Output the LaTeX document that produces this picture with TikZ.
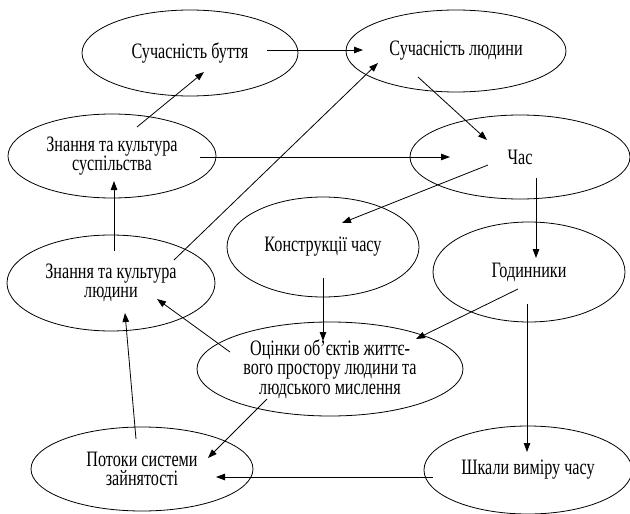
\documentclass[tikz,border=0pt]{standalone}
\usepackage{fontspec}
\setmainfont{Liberation Serif}[FakeStretch=0.735]
\usetikzlibrary{shapes.geometric,arrows.meta,calc}

\begin{document}
\begin{tikzpicture}[
        x=1pt, y=-1pt,
        font=\fontsize{22}{19.5}\selectfont,
        bubble/.style={ellipse, draw, line width=0.8pt, inner sep=0pt, align=center},
        arr/.style={line width=0.8pt, -{Triangle[length=9pt,width=6.5pt]}}
    ]
    \useasboundingbox (0,0) rectangle (630,514);

    % ten ellipses
    \node[bubble, minimum width=216, minimum height=86] (sb) at (190,53) {Сучасність буття};
    \node[bubble, minimum width=220, minimum height=82] (sl) at (456,51) {Сучасність людини};
    \node[bubble, minimum width=208, minimum height=84] (ks) at (112,156) {Знання та культура\\суспільства};
    \node[bubble, minimum width=220, minimum height=84] (chas) at (520,157) {Час};
    \node[bubble, minimum width=192, minimum height=100] (kch) at (323,247) {Конструкції часу};
    \node[bubble, minimum width=208, minimum height=96] (kl) at (111,283) {Знання та культура\\людини};
    \node[bubble, minimum width=192, minimum height=100] (god) at (529,272) {Годинники};
    \node[bubble, minimum width=266, minimum height=94] (oc) at (330,369) {Оцінки об’єктів життє-\\вого простору людини та\\людського мислення};
    \node[bubble, minimum width=222, minimum height=84] (pot) at (142,469) {Потоки системи\\зайнятості};
    \node[bubble, minimum width=208, minimum height=88] (shk) at (528,470) {Шкали виміру часу};

    % arrows
    \draw[arr] ($(sb)+(77,-3)$) -- ($(sl)+(-93,-1)$);
    \draw[arr] ($(ks)+(25,-29)$) -- ($(sb)+(14,19)$);
    \draw[arr] ($(ks)+(88,1)$) -- ($(chas)+(-70,0)$);
    \draw[arr] ($(sl)+(-38,26)$) -- ($(chas)+(-33,-17)$);
    \draw[arr] ($(chas)+(-32,8)$) -- ($(kch)+(19,-24)$);
    \draw[arr] ($(chas)+(16,21)$) -- ($(god)+(7,-14)$);
    \draw[arr] ($(kl)+(3,-32)$) -- ($(ks)+(2,25)$);
    \draw[arr] ($(kl)+(63,-23)$) -- ($(sl)+(-78,12)$);
    \draw[arr] ($(kch)+(0,31)$) -- ($(oc)+(-7,-28)$);
    \draw[arr] ($(god)+(-11,17)$) -- ($(oc)+(86,-30)$);
    \draw[arr] ($(oc)+(-100,-17)$) -- ($(kl)+(46,16)$);
    \draw[arr] ($(oc)+(-63,30)$) -- ($(pot)+(66,-11)$);
    \draw[arr] ($(pot)+(-6,-30)$) -- ($(kl)+(14,30)$);
    \draw[arr] ($(god)+(-2,32)$) -- ($(shk)+(-1,-18)$);
    \draw[arr] ($(shk)+(-95,7)$) -- ($(pot)+(74,8)$);
\end{tikzpicture}
\end{document}
